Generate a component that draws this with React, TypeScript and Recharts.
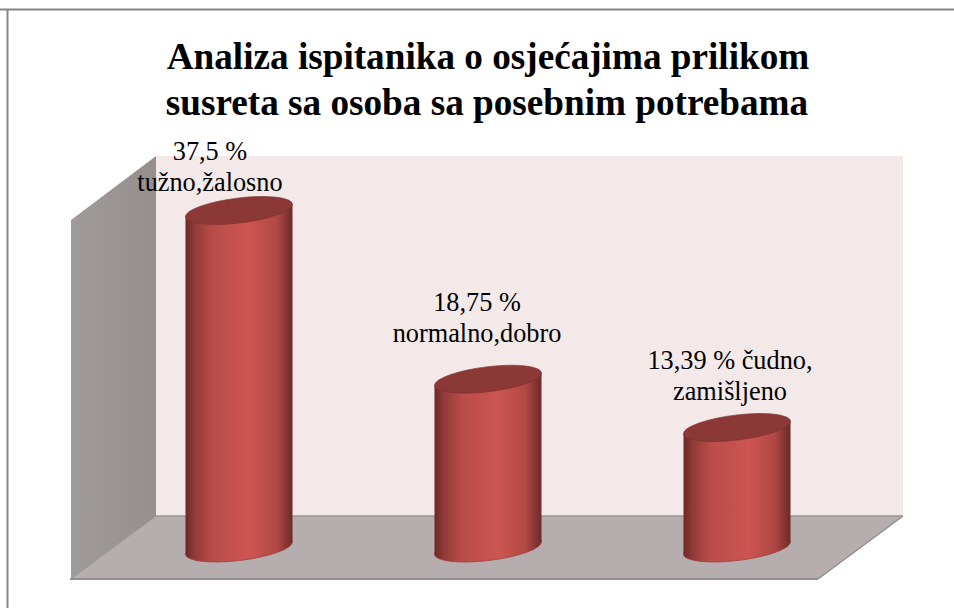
import React from "react";
import { Bar, BarChart, LabelList, XAxis, YAxis } from "recharts";

const categories = ["tužno,žalosno", "normalno,dobro", "čudno,zamišljeno"];
const shares = [37.5, 18.75, 13.39];
const labelLines = [
  ["37,5 %", "tužno,žalosno"],
  ["18,75 %", "normalno,dobro"],
  ["13,39 % čudno,", "zamišljeno"],
];
const titleLines = [
  "Analiza ispitanika o osjećajima prilikom",
  "susreta sa osoba sa posebnim potrebama",
];

const data = categories.map((name, i) => ({ name, share: shares[i], index: i }));

const WIDTH = 954;
const HEIGHT = 608;
const margin = { top: 188, right: 93.5, bottom: 60, left: 113.5 };
const FONT = '"Liberation Serif", "Times New Roman", serif';

// the 3D box sits half a depth either side of the plot area
const DEPTH_X = 42.5;
const DEPTH_Y = 32;
const SHEAR = 0.115;

function Box() {
  const left = margin.left;
  const right = WIDTH - margin.right;
  const top = margin.top;
  const bottom = HEIGHT - margin.bottom;
  const backB = bottom - DEPTH_Y;
  const frontB = bottom + DEPTH_Y - 1;
  const backT = top - DEPTH_Y;
  const frontT = top + DEPTH_Y;
  return (
    <g>
      <defs>
        <linearGradient id="sideWall" x1="0" x2="1" y1="0" y2="0">
          <stop offset="0" stopColor="#a09c9b" />
          <stop offset="1" stopColor="#958f8e" />
        </linearGradient>
        <linearGradient id="cylinder" x1="0" x2="1" y1="0" y2="0">
          <stop offset="0" stopColor="#6b2826" />
          <stop offset="0.08" stopColor="#8f3a38" />
          <stop offset="0.25" stopColor="#b94c4a" />
          <stop offset="0.6" stopColor="#cd5551" />
          <stop offset="0.85" stopColor="#b04845" />
          <stop offset="1" stopColor="#6d2a28" />
        </linearGradient>
      </defs>
      <rect x={left + DEPTH_X} y={backT} width={right - left} height={backB - backT} fill="#f4e9e9" />
      <polygon
        points={`${left - DEPTH_X},${frontT} ${left + DEPTH_X},${backT} ${left + DEPTH_X},${backB} ${left - DEPTH_X},${frontB}`}
        fill="url(#sideWall)"
      />
      <polygon
        points={`${left - DEPTH_X},${frontB} ${left + DEPTH_X},${backB} ${right + DEPTH_X},${backB} ${right - DEPTH_X},${frontB}`}
        fill="#b6aeae"
      />
      <line x1={left + DEPTH_X} y1={backB} x2={right + DEPTH_X} y2={backB} stroke="#9a9696" strokeWidth={1.5} />
      <line x1={left - DEPTH_X} y1={frontB} x2={left + DEPTH_X} y2={backB} stroke="#9a9696" strokeWidth={1} />
      <line x1={right - DEPTH_X} y1={frontB} x2={right + DEPTH_X} y2={backB} stroke="#8f8f8f" strokeWidth={1.5} />
      <line x1={left - DEPTH_X - 1} y1={frontB} x2={right - DEPTH_X} y2={frontB} stroke="#8f8f8f" strokeWidth={2} />
    </g>
  );
}

function Cylinder(props: any) {
  const { y, width, height } = props;
  const x = props.x + 1;
  const cx = x + width / 2;
  const rx = width / 2;
  const ry = 12.6;
  const rise = rx * SHEAR;
  const bottom = y + height;
  const right = x + width;
  // sheared rather than rotated so the sides stay tangent to the ends
  const skew = `matrix(1 ${-SHEAR} 0 1 0 ${SHEAR * cx})`;
  return (
    <g>
      <ellipse cx={cx} cy={bottom} rx={rx} ry={ry} transform={skew} fill="url(#cylinder)" stroke="#a33f3d" strokeWidth={0.8} />
      <path
        d={`M${x},${y + rise} L${x},${bottom + rise} L${right},${bottom - rise} L${right},${y - rise} Z`}
        fill="url(#cylinder)"
      />
      <ellipse cx={cx} cy={y} rx={rx} ry={ry} transform={skew} fill="#8b3836" stroke="#7c302e" strokeWidth={0.6} />
    </g>
  );
}

// labels are not centred on the bars in the original, they were dragged by hand
const labelShift = [
  { dx: -28, dy: -20 },
  { dx: -10, dy: -37 },
  { dx: -6, dy: -27 },
];

function BarLabel(props: any) {
  const { x, y, width, index } = props;
  const lines = labelLines[index];
  const shift = labelShift[index];
  const cx = x + width / 2 + shift.dx;
  const gap = 31;
  const lastY = y + shift.dy;
  return (
    <text textAnchor="middle" fontFamily={FONT} fontSize={26.3} fill="#000">
      {lines.map((line, i) => (
        <tspan key={line} x={cx} y={lastY - (lines.length - 1 - i) * gap}>
          {line}
        </tspan>
      ))}
    </text>
  );
}

export default function App() {
  return (
    <div style={{ position: "absolute", left: 0, top: 0, width: WIDTH, height: HEIGHT, background: "#fff", overflow: "hidden" }}>
      <BarChart
        width={WIDTH}
        height={HEIGHT}
        data={data}
        margin={margin}
        barSize={107}
      >
        <Box />
        <XAxis dataKey="name" hide />
        <YAxis domain={[0, 40]} hide />
        <line x1={0} y1={9.5} x2={WIDTH} y2={9.5} stroke="#868686" strokeWidth={2} />
        <line x1={7.5} y1={9} x2={7.5} y2={HEIGHT} stroke="#868686" strokeWidth={2} />
        <text textAnchor="middle" fontFamily={FONT} fontSize={37.2} fontWeight="bold" fill="#000">
          <tspan x={488} y={69}>{titleLines[0]}</tspan>
          <tspan x={487} y={115}>{titleLines[1]}</tspan>
        </text>
        <Bar dataKey="share" shape={<Cylinder />} isAnimationActive={false}>
          <LabelList dataKey="share" content={<BarLabel />} />
        </Bar>
      </BarChart>
    </div>
  );
}
